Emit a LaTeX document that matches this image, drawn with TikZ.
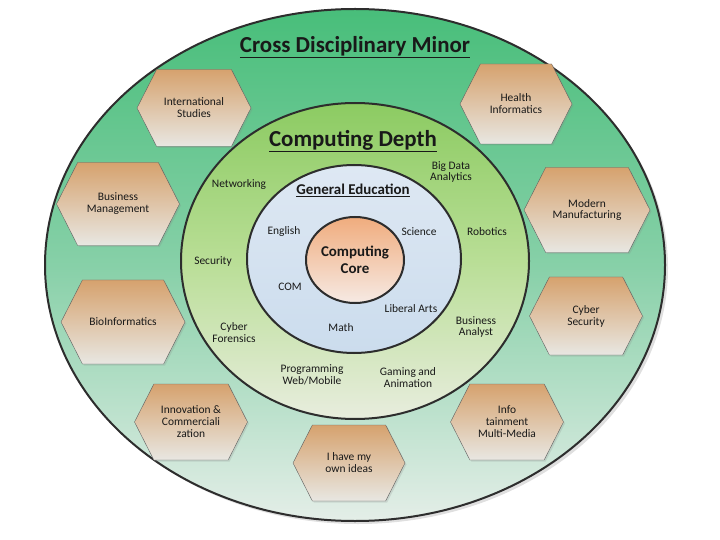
\documentclass[tikz,border=0pt]{standalone}
\usepackage{fontspec}
\setmainfont{Carlito}
\usetikzlibrary{shapes.symbols, shadows}

\definecolor{outertop}{RGB}{72,190,122}
\definecolor{outermid}{RGB}{135,208,168}
\definecolor{outerbottom}{RGB}{228,238,232}
\definecolor{depthtop}{RGB}{140,203,98}
\definecolor{depthmid}{RGB}{185,222,150}
\definecolor{depthbottom}{RGB}{232,237,222}
\definecolor{gentop}{RGB}{222,232,243}
\definecolor{genbottom}{RGB}{203,220,237}
\definecolor{coretop}{RGB}{240,172,125}
\definecolor{corebottom}{RGB}{246,234,228}
\definecolor{hextop}{RGB}{214,162,110}
\definecolor{hexbottom}{RGB}{232,231,226}
\definecolor{ringline}{RGB}{45,45,45}
\definecolor{hexline}{RGB}{95,95,95}
\definecolor{textdark}{RGB}{25,25,25}

\begin{document}
\begin{tikzpicture}
	[
	x=1bp, y=-1bp, font=\fontsize{11.5}{12}\selectfont, text=textdark,
	%Voreinstellungen
	ring/.style={draw=ringline, line width=2bp},
	hexbox/.style={shape=signal, signal to=east and west, signal pointer angle=126,
		draw=hexline, thin, top color=hextop, bottom color=hexbottom, align=center, inner sep=1bp,
		drop shadow={opacity=0.2, shadow xshift=1.5bp, shadow yshift=-1.5bp}},
	lbl/.style={align=center},
	head/.style={font=\fontsize{23}{25}\selectfont\bfseries}
	]
	\useasboundingbox (0,0) rectangle (720,540);
	%Ringe
	\draw[ring, top color=outertop, bottom color=outerbottom, middle color=outermid,
		drop shadow={opacity=0.25, shadow xshift=3bp, shadow yshift=-3bp}] (355,265) ellipse [x radius=310, y radius=256];
	\draw[ring, top color=depthtop, bottom color=depthbottom, middle color=depthmid] (355,261) ellipse [x radius=174, y radius=158];
	\draw[ring, top color=gentop, bottom color=genbottom] (354,259) ellipse [x radius=107, y radius=94];
	\draw[ring, top color=coretop, bottom color=corebottom] (355,260) ellipse [x radius=49, y radius=43];
	%Überschriften
	\node[head] (minor) at (355,47) {\underline{Cross Disciplinary Minor}};
	\node[head] (depth) at (353,141) {\underline{Computing Depth}};
	\node[font=\fontsize{15}{16}\selectfont\bfseries] (gened) at (353,190) {\underline{General Education}};
	\node[lbl, font=\fontsize{15}{16.5}\selectfont\bfseries] (core) at (355,260) {Computing\\Core};
	%General Education
	\node[lbl] (english) at (284,232) {English};
	\node[lbl] (science) at (419,232) {Science};
	\node[lbl] (com) at (290,287) {COM};
	\node[lbl] (libarts) at (411,309) {Liberal Arts};
	\node[lbl] (math) at (341,328) {Math};
	%Computing Depth
	\node[lbl] (network) at (239,185) {Networking};
	\node[lbl] (bigdata) at (451,172) {Big Data\\Analytics};
	\node[lbl] (robotics) at (487,232) {Robotics};
	\node[lbl] (security) at (213,261) {Security};
	\node[lbl] (forensics) at (234,333) {Cyber\\Forensics};
	\node[lbl] (analyst) at (476,327) {Business\\Analyst};
	\node[lbl] (program) at (312,375) {Programming\\Web/Mobile};
	\node[lbl] (gaming) at (408,378) {Gaming and\\Animation};
	%Minor
	\node[hexbox, minimum width=114bp, minimum height=77bp] (intl) at (194,108) {International\\Studies};
	\node[hexbox, minimum width=112bp, minimum height=80bp] (health) at (516,104) {Health\\Informatics};
	\node[hexbox, minimum width=123bp, minimum height=83bp] (bizmgmt) at (118,204) {Business\\Management};
	\node[hexbox, minimum width=126bp, minimum height=85bp] (modern) at (587,210) {Modern\\Manufacturing};
	\node[hexbox, minimum width=124bp, minimum height=84bp] (bio) at (123,322) {BioInformatics};
	\node[hexbox, minimum width=113bp, minimum height=78bp] (cybersec) at (586,316) {Cyber\\Security};
	\node[hexbox, minimum width=113bp, minimum height=76bp] (innov) at (191,422) {Innovation \&\\Commerciali\\zation};
	\node[hexbox, minimum width=112bp, minimum height=76bp] (ideas) at (349,463) {I have my\\own ideas};
	\node[hexbox, minimum width=113bp, minimum height=76bp] (info) at (507,422) {Info\\tainment\\Multi-Media};
\end{tikzpicture}
\end{document}
